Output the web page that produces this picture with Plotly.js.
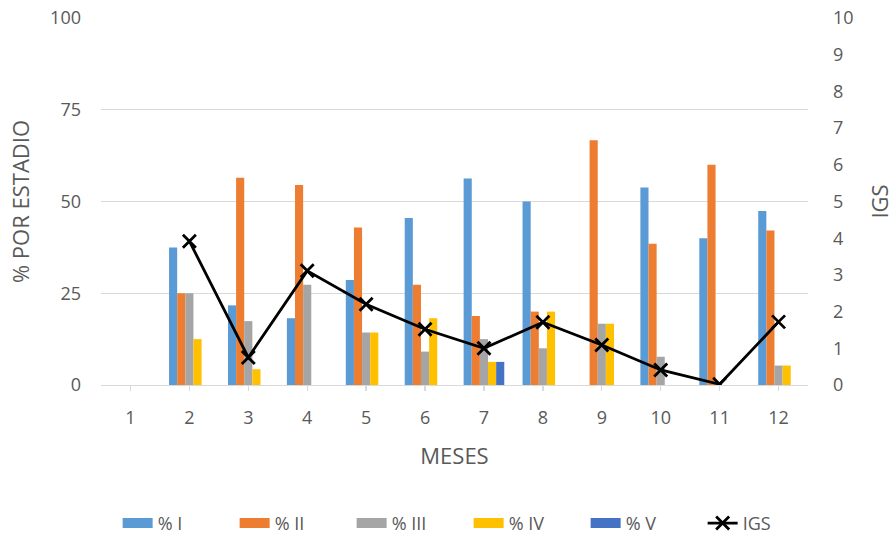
<!DOCTYPE html>
<html><head><meta charset="utf-8">
<script src="https://cdn.plot.ly/plotly-3.0.1.min.js"></script>
<style>html,body{margin:0;padding:0;background:#fff}#chart{width:894px;height:542px}</style>
</head><body><div id="chart"></div>
<script>
const months = ["1","2","3","4","5","6","7","8","9","10","11","12"];
const seriesNames = ["% I", "% II", "% III", "% IV", "% V"];
const pctI   = [null, 37.5, 21.7, 18.2, 28.6, 45.5, 56.3, 50.0, 0, 53.8, 40.0, 47.4];
const pctII  = [null, 25.0, 56.5, 54.5, 42.9, 27.3, 18.8, 20.0, 66.7, 38.5, 60.0, 42.1];
const pctIII = [null, 25.0, 17.4, 27.3, 14.3, 9.1, 12.5, 10.0, 16.7, 7.7, 0, 5.3];
const pctIV  = [null, 12.5, 4.3, 0, 14.3, 18.2, 6.3, 20.0, 16.7, 0, 0, 5.3];
const pctV   = [null, 0, 0, 0, 0, 0, 6.3, 0, 0, 0, 0, 0];
const igs    = [null, 3.92, 0.75, 3.11, 2.2, 1.52, 1.0, 1.71, 1.09, 0.41, 0.02, 1.72];
const leftTicks = [0, 25, 50, 75, 100];

const colors = ["#5B9BD5", "#ED7D31", "#A5A5A5", "#FFC000", "#4472C4"];
const FAM = "'Open Sans', 'Noto Sans', 'Liberation Sans', sans-serif";
const tickFont  = {family: FAM, size: 18, color: "#595959"};
const titleFont = {family: FAM, size: 22, color: "#595959"};

const values = [pctI, pctII, pctIII, pctIV, pctV];
const data = [];
values.forEach((v, i) => {
  data.push({type:"bar", name:seriesNames[i], x:months, y:v, marker:{color:colors[i]},
             showlegend:false, legendgroup:seriesNames[i], hoverinfo:"skip"});
});
// legend swatches (wide rectangles like the original)
values.forEach((v, i) => {
  data.push({type:"scatter", mode:"lines", name:seriesNames[i], x:[null], y:[null],
             line:{color:colors[i], width:13}, legendgroup:seriesNames[i], hoverinfo:"skip"});
});
data.push({type:"scatter", mode:"lines+markers", name:"IGS", x:months, y:igs, yaxis:"y2",
   line:{color:"#000000", width:2.8},
   marker:{symbol:"x-thin", size:13, line:{color:"#000000", width:2.8}, color:"#000"},
   hoverinfo:"skip"});

const layout = {
  width:894, height:542,
  margin:{l:101, r:86, t:18, b:157, autoexpand:false},
  paper_bgcolor:"#fff", plot_bgcolor:"#fff",
  font:tickFont,
  barmode:"group", bargap:0.31, bargroupgap:0,
  showlegend:true,
  legend:{orientation:"h", x:0.52, xanchor:"center", y:-0.377, yanchor:"middle",
          font:tickFont, traceorder:"normal", entrywidth:72, entrywidthmode:"pixels"},
  xaxis:{type:"category", range:[-0.5, 11.5], autorange:false,
         showgrid:false, zeroline:false, automargin:false,
         showline:true, linecolor:"#D9D9D9", linewidth:1.3,
         ticks:"outside", ticklen:5, tickcolor:"#D9D9D9", tickwidth:1.3,
         tickfont:tickFont, ticklabelstandoff:11,
         title:{text:"MESES", font:titleFont, standoff:20}},
  yaxis:{range:[0,100], tickvals:leftTicks, showgrid:true, gridcolor:"#D9D9D9", gridwidth:1.3,
         zeroline:false, showline:false, ticks:"", tickfont:tickFont, automargin:false,
         ticklabelstandoff:19,
         title:{text:"% POR ESTADIO", font:titleFont, standoff:14}},
  yaxis2:{range:[0,10], dtick:1, overlaying:"y", side:"right", showgrid:false, zeroline:false,
          showline:false, ticks:"", tickfont:tickFont, automargin:false,
          ticklabelstandoff:24,
          title:{text:"IGS", font:titleFont, standoff:22}}
};
Plotly.newPlot("chart", data, layout, {displayModeBar:false, staticPlot:true});
</script></body></html>
